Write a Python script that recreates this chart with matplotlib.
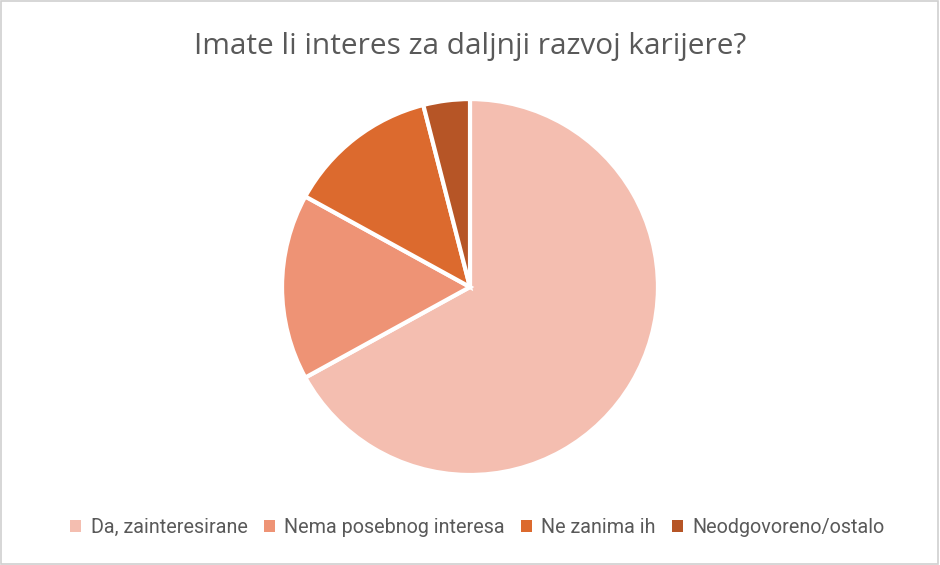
import matplotlib.pyplot as plt
from matplotlib.patches import Rectangle, Patch

categories = ["Da, zainteresirane", "Nema posebnog interesa", "Ne zanima ih", "Neodgovoreno/ostalo"]
values = [67, 16, 13, 4]
colors = ["#F4BEB0", "#EE9375", "#DC6A2E", "#B65526"]

fig = plt.figure(figsize=(9.4, 5.65), dpi=100)
fig.patch.set_facecolor("white")
fig.patches.append(Rectangle((0.001, 0.001), 0.997, 0.997, transform=fig.transFigure,
                             fill=False, edgecolor="#D0D0D0", linewidth=1.2))

ax = fig.add_axes([0.301, 0.161, 0.398, 0.662])
ax.pie(values, colors=colors, startangle=90, counterclock=False,
       wedgeprops=dict(edgecolor="white", linewidth=3))
ax.set_xlim(-0.995, 0.995)
ax.set_ylim(-0.995, 0.995)
ax.set_aspect("equal")

fig.text(0.5, 0.917, "Imate li interes za daljnji razvoj karijere?", ha="center", va="center",
         fontsize=21.5, color="#595959", family=["Open Sans", "DejaVu Sans"])

handles = [Patch(facecolor=c, edgecolor="none") for c in colors]
fig.legend(handles, categories, loc="center", bbox_to_anchor=(0.508, 0.067), ncol=4, frameon=False,
           handlelength=0.55, handleheight=0.55, handletextpad=0.5, columnspacing=0.8,
           prop=dict(family=["Roboto", "DejaVu Sans"], size=14.2), labelcolor="#595959")

fig.savefig("out.png", dpi=100)
